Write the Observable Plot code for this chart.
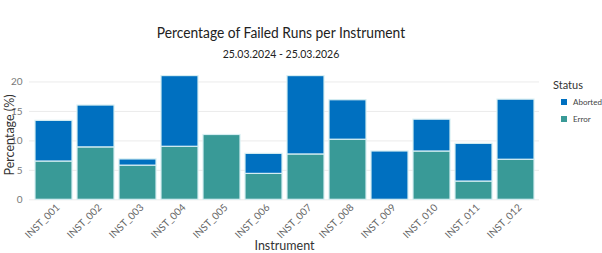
<!DOCTYPE html>
<html><head><meta charset="utf-8">
<script src="https://cdn.jsdelivr.net/npm/d3@7"></script>
<script src="https://cdn.jsdelivr.net/npm/@observablehq/plot@0.6"></script>
<style>
body{margin:0;background:#fff;font-family:Lato,sans-serif;}
#wrap{position:relative;width:602px;height:253px;overflow:hidden;}
#title{position:absolute;left:0;width:562px;top:23px;text-align:center;font-size:15.5px;color:#222;transform:scaleX(0.89);transform-origin:281px 0;}
#sub{position:absolute;left:0;width:562px;top:48px;text-align:center;font-size:10.5px;color:#222;}
#legend{position:absolute;left:553px;top:78px;font-size:8px;color:#444;}
#legend .t{font-size:11px;color:#333;margin-bottom:2px;}
#legend .r{display:flex;align-items:center;height:17px;white-space:nowrap;}
#legend .s{width:6px;height:6px;margin:0 6px 0 8px;}
#chart{position:absolute;left:0;top:0;}
</style></head><body>
<div id="wrap">
<div id="chart"></div>
<div id="title">Percentage of Failed Runs per Instrument</div>
<div id="sub">25.03.2024 - 25.03.2026</div>
<div id="legend"></div>
</div>
<script>
const instruments = ["INST_001","INST_002","INST_003","INST_004","INST_005","INST_006","INST_007","INST_008","INST_009","INST_010","INST_011","INST_012"];
const errorPct   = [6.5, 8.9, 5.8, 9.0, 11.0, 4.4, 7.7, 10.2, 0, 8.2, 3.1, 6.8];
const abortedPct = [6.9, 7.1, 1.05, 12.0, 0, 3.4, 13.3, 6.7, 8.2, 5.4, 6.4, 10.2];
const statuses = ["Error","Aborted"];
const colors = {"Aborted":"#0070C0","Error":"#399A97"};
const yTicks = [0,5,10,15,20];

const data = [];
instruments.forEach((inst,i)=>{
  data.push({inst, status:"Error", v:errorPct[i]});
  data.push({inst, status:"Aborted", v:abortedPct[i]});
});

const plot = Plot.plot({
  width:602, height:253,
  marginLeft:29, marginRight:63, marginTop:69.7, marginBottom:53.7,
  style:{fontFamily:"Lato, sans-serif", background:"transparent"},
  x:{domain:instruments, padding:0.12, label:null},
  y:{domain:[0,22], label:null},
  color:{domain:["Aborted","Error"], range:[colors.Aborted, colors.Error]},
  marks:[
    Plot.gridY(yTicks,{stroke:"#ebebeb", strokeOpacity:1}),
    Plot.barY(data, Plot.stackY({x:"inst", y:"v", fill:"status", order:statuses, stroke:"#d6eef2", strokeWidth:1.2})),
    Plot.axisY(yTicks,{tickSize:0, tickPadding:7, fontSize:10, fill:"#777", label:null}),
    Plot.axisX({tickSize:0, tickRotate:-45, tickPadding:6, dx:4, fontSize:10, fill:"#666", label:null}),
    Plot.text(["Instrument"],{frameAnchor:"bottom", dy:50, fontSize:12.5, fill:"#333"}),
    Plot.text(["Percentage (%)"],{frameAnchor:"left", dx:-20, rotate:-90, textAnchor:"middle", fontSize:12.5, fill:"#333"})
  ]
});
document.getElementById("chart").appendChild(plot);

const lg = document.getElementById("legend");
lg.innerHTML = '<div class="t">Status</div>' + ["Aborted","Error"].map(s=>
  `<div class="r"><span class="s" style="background:${colors[s]}"></span>${s}</div>`).join("");
</script>
</body></html>
